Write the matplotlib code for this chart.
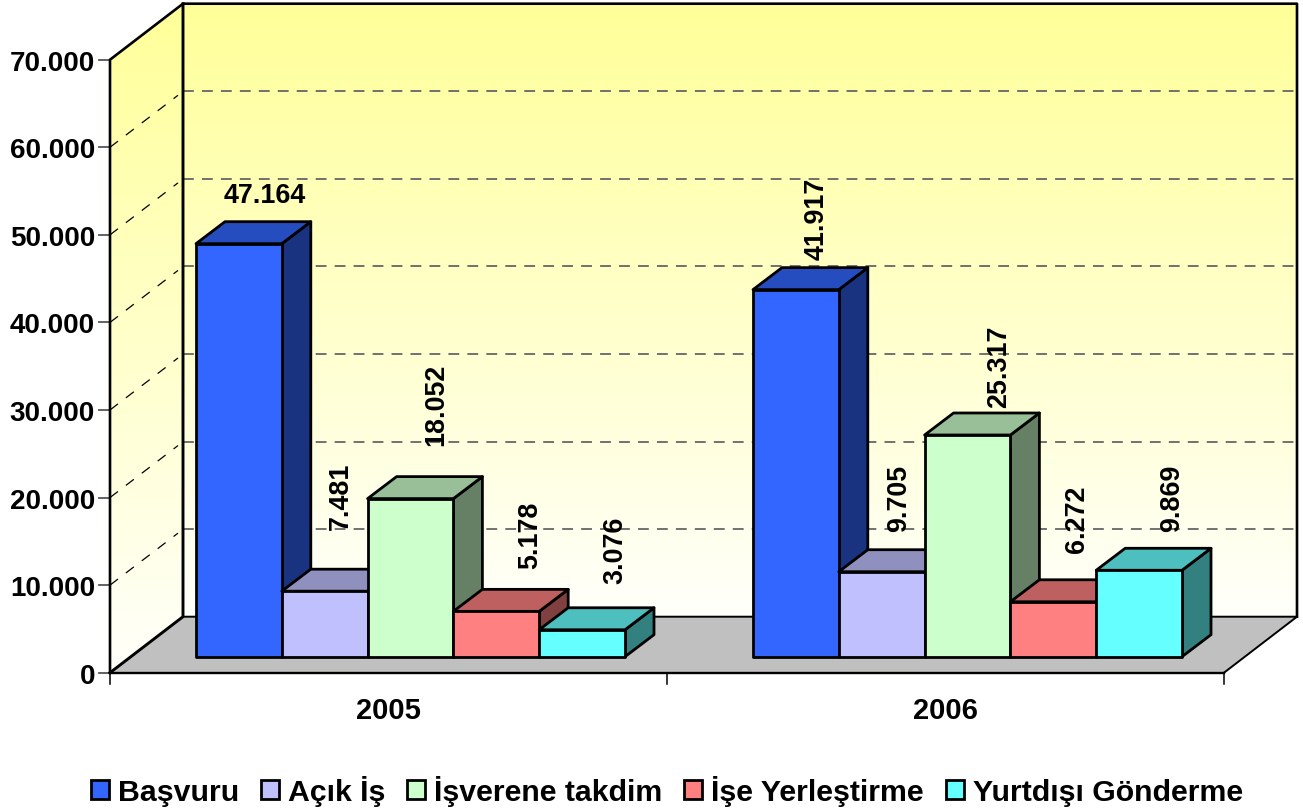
import numpy as np
import matplotlib
matplotlib.use("Agg")
import matplotlib.pyplot as plt
from matplotlib.colors import to_rgb
from matplotlib.patches import Patch, Polygon

plt.rcParams['font.family'] = ['Liberation Sans', 'DejaVu Sans']
plt.rcParams['font.weight'] = 'bold'

# Data
years = ['2005', '2006']
series_names = ['Başvuru', 'Açık İş', 'İşverene takdim', 'İşe Yerleştirme', 'Yurtdışı Gönderme']
basvuru = [47164, 41917]
acik_is = [7481, 9705]
takdim = [18052, 25317]
yerlestirme = [5178, 6272]
yurtdisi = [3076, 9869]
y_ticks = [0, 10000, 20000, 30000, 40000, 50000, 60000, 70000]

series_values = [basvuru, acik_is, takdim, yerlestirme, yurtdisi]
colors = ['#3366FF', '#C0C0FF', '#CCFFCC', '#FF8080', '#66FFFF']

# Chart box in figure pixels
LEFT, RIGHT, BOTTOM, TOP = 110, 1224, 673.7, 60.7
DEPTH_X, DEPTH_Y = 73, 56
BAR_BASE = 657.7
BAR_W = 85.8
BAR_DX, BAR_DY = 29, 22
EDGE = 2.0
GROUP_START = [196, 753]
# label placement per bar: shift from bar's left edge, gap above its top face
label_dx = [[69, 59, 69, 77, 76], [64, 60, 75, 67, 76]]
label_gap = [[14, 40, 32, 21, 25], [9, 19, 6, 28, 17]]


def val_h(v):
    return v * (BOTTOM - TOP) / 70000


def shade(color, k):
    return tuple(c * k for c in to_rgb(color))


fig = plt.figure(figsize=(13.03, 8.12), dpi=100)
ax = fig.add_axes([0, 0, 1, 1])

# Walls with yellow gradient
grad = np.ones((256, 1, 3))
grad[:, 0, 2] = np.linspace(0.6, 0.985, 256)
back = ax.imshow(grad, extent=[LEFT + DEPTH_X, RIGHT + DEPTH_X, BOTTOM - DEPTH_Y, TOP - DEPTH_Y],
                 aspect='auto', zorder=1)
side = ax.imshow(grad, extent=[LEFT, LEFT + DEPTH_X, BOTTOM, TOP - DEPTH_Y], aspect='auto', zorder=1)
side_poly = Polygon([(LEFT, BOTTOM), (LEFT, TOP), (LEFT + DEPTH_X, TOP - DEPTH_Y),
                     (LEFT + DEPTH_X, BOTTOM - DEPTH_Y)], closed=True, transform=ax.transData)
side.set_clip_path(side_poly)

ax.set_xlim(0, 1303)
ax.set_ylim(812, 0)
ax.axis('off')

# Floor
ax.add_patch(Polygon([(LEFT, BOTTOM), (RIGHT, BOTTOM), (RIGHT + DEPTH_X, BOTTOM - DEPTH_Y),
                      (LEFT + DEPTH_X, BOTTOM - DEPTH_Y)], closed=True, fc='#C0C0C0', ec='none', zorder=2))

# Gridlines on walls and y ticks
for v in y_ticks:
    y = BOTTOM - val_h(v)
    if 0 < v < 70000:
        ax.plot([LEFT + DEPTH_X, RIGHT + DEPTH_X], [y - DEPTH_Y, y - DEPTH_Y], color='#666666',
                lw=1.3, ls=(0, (6, 4.5)), zorder=2)
        ax.plot([LEFT, LEFT + DEPTH_X - 5], [y, y - DEPTH_Y + 4], color='black', lw=0.9, ls=(0, (8, 8)), zorder=2)
    ax.plot([LEFT - 11, LEFT], [y, y], color='#555555', lw=1.3, zorder=3)
    ax.text(LEFT - 15, y, f'{v:,}'.replace(',', '.'), ha='right', va='center_baseline', fontsize=20, zorder=5)

# Wall outlines
ax.plot([LEFT, LEFT, LEFT + DEPTH_X, RIGHT + DEPTH_X, RIGHT + DEPTH_X],
        [BOTTOM, TOP, TOP - DEPTH_Y, TOP - DEPTH_Y, BOTTOM - DEPTH_Y], color='black', lw=1.9, zorder=3)
ax.plot([LEFT, LEFT + DEPTH_X, LEFT + DEPTH_X], [BOTTOM, BOTTOM - DEPTH_Y, TOP - DEPTH_Y],
        color='black', lw=2.1, zorder=3)
ax.plot([LEFT + DEPTH_X, RIGHT + DEPTH_X, RIGHT], [BOTTOM - DEPTH_Y, BOTTOM - DEPTH_Y, BOTTOM],
        color='black', lw=1.4, zorder=3)
ax.plot([LEFT, RIGHT], [BOTTOM, BOTTOM], color='black', lw=1.7, zorder=3)

# X ticks and category labels
mid = (LEFT + RIGHT) / 2
for x in [LEFT, mid, RIGHT]:
    ax.plot([x, x], [BOTTOM, BOTTOM + 11], color='black', lw=1.1, zorder=3)
for i, name in enumerate(years):
    ax.text(LEFT + (i + 0.5) * (RIGHT - LEFT) / 2, 708.5, name, ha='center', va='center_baseline', fontsize=21)

# Bars
z = 4
for g, start in enumerate(GROUP_START):
    for s, values in enumerate(series_values):
        v = values[g]
        x0 = start + s * BAR_W
        x1 = x0 + BAR_W
        top = BAR_BASE - val_h(v)
        c = colors[s]
        ax.add_patch(Polygon([(x1, BAR_BASE), (x1 + BAR_DX, BAR_BASE - BAR_DY), (x1 + BAR_DX, top - BAR_DY), (x1, top)],
                             closed=True, fc=shade(c, 0.5), ec='black', lw=EDGE, joinstyle='round', zorder=z))
        ax.add_patch(Polygon([(x0, top), (x1, top), (x1 + BAR_DX, top - BAR_DY), (x0 + BAR_DX, top - BAR_DY)],
                             closed=True, fc=shade(c, 0.75), ec='black', lw=EDGE, joinstyle='round', zorder=z))
        ax.add_patch(Polygon([(x0, BAR_BASE), (x1, BAR_BASE), (x1, top), (x0, top)],
                             closed=True, fc=c, ec='black', lw=EDGE, joinstyle='round', zorder=z))
        z += 0.01
        # Value labels, only the first one is horizontal
        rot = 0 if (g == 0 and s == 0) else 90
        ax.text(x0 + label_dx[g][s], top - BAR_DY - label_gap[g][s], f'{v:,}'.replace(',', '.'),
                rotation=rot, ha='center', va='bottom', fontsize=19.4, zorder=6)

# Legend
handles = [Patch(fc=c, ec='black', lw=EDGE) for c in colors]
ax.legend(handles, series_names, loc='center', bbox_to_anchor=(667 / 1303, 1 - 792 / 812), ncol=5, frameon=False,
          fontsize=21.8, handlelength=0.6, handleheight=0.6, handletextpad=0.3, columnspacing=0.71,
          borderpad=0, borderaxespad=0)

fig.savefig('out.png', dpi=100)
